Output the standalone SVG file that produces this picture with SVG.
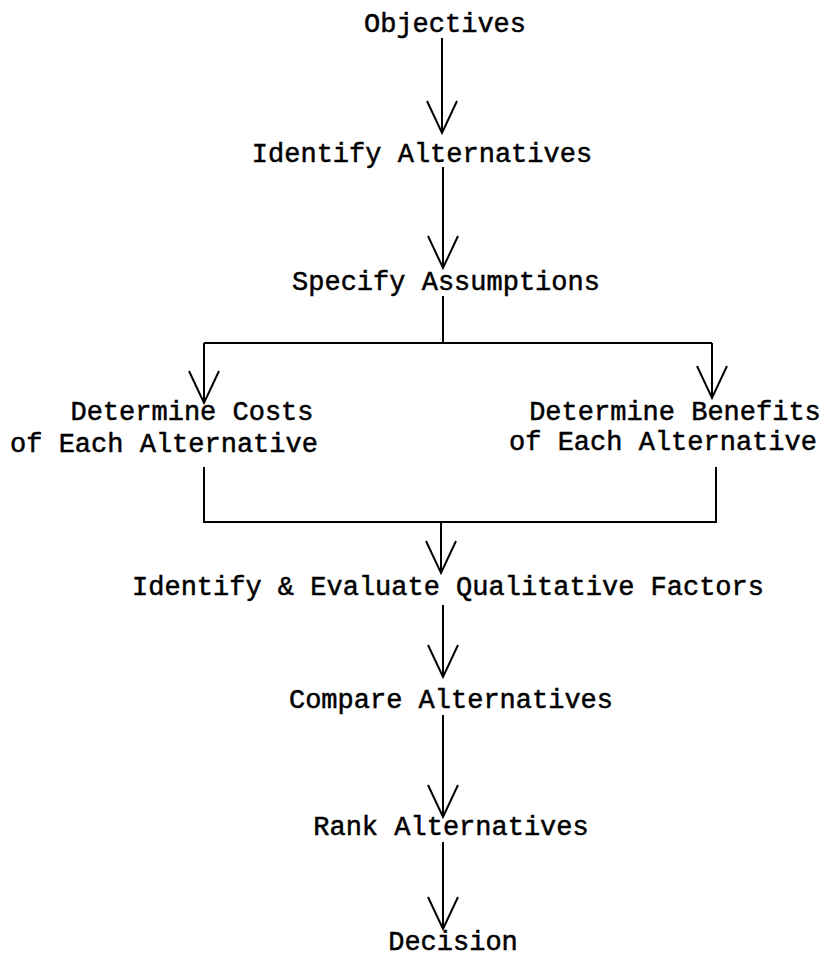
<svg xmlns="http://www.w3.org/2000/svg" width="833" height="961" viewBox="0 0 833 961">
<style>
text{font-family:"Liberation Mono","Courier New",monospace;font-size:27px;fill:#000;stroke:#000;stroke-width:0.5;text-anchor:middle}
.c{fill:none;stroke:#000;stroke-width:2}
</style>
<defs>
<marker id="v" markerUnits="userSpaceOnUse" markerWidth="40" markerHeight="40" refX="0" refY="0" orient="auto" overflow="visible">
<path d="M-32,-15 L0,0 L-32,15" fill="none" stroke="#000" stroke-width="2"/>
</marker>
</defs>
<rect width="833" height="961" fill="#fff"/>
<g id="connectors">
<line class="c" x1="442" y1="38" x2="442" y2="133" marker-end="url(#v)"/>
<line class="c" x1="443" y1="167" x2="443" y2="268" marker-end="url(#v)"/>
<path class="c" d="M443,296 V343"/>
<path class="c" d="M204,343 H712"/>
<line class="c" x1="204" y1="343" x2="204" y2="403" marker-end="url(#v)"/>
<line class="c" x1="712" y1="343" x2="712" y2="398" marker-end="url(#v)"/>
<path class="c" d="M204,467 V522 H716 V467"/>
<line class="c" x1="441" y1="522" x2="441" y2="573" marker-end="url(#v)"/>
<line class="c" x1="443" y1="605" x2="443" y2="677" marker-end="url(#v)"/>
<line class="c" x1="443" y1="715" x2="443" y2="817" marker-end="url(#v)"/>
<line class="c" x1="443" y1="842" x2="443" y2="929" marker-end="url(#v)"/>
</g>
<g id="objectives"><text x="445" y="32">Objectives</text></g>
<g id="identify-alternatives"><text x="422" y="162">Identify Alternatives</text></g>
<g id="specify-assumptions"><text x="446" y="290">Specify Assumptions</text></g>
<g id="determine-costs"><text x="192" y="420">Determine Costs</text><text x="164" y="452">of Each Alternative</text></g>
<g id="determine-benefits"><text x="675" y="420">Determine Benefits</text><text x="663" y="450">of Each Alternative</text></g>
<g id="qualitative-factors"><text x="448" y="595">Identify &amp; Evaluate Qualitative Factors</text></g>
<g id="compare-alternatives"><text x="451" y="708">Compare Alternatives</text></g>
<g id="rank-alternatives"><text x="451" y="835">Rank Alternatives</text></g>
<g id="decision"><text x="453" y="950">Decision</text></g>
</svg>
